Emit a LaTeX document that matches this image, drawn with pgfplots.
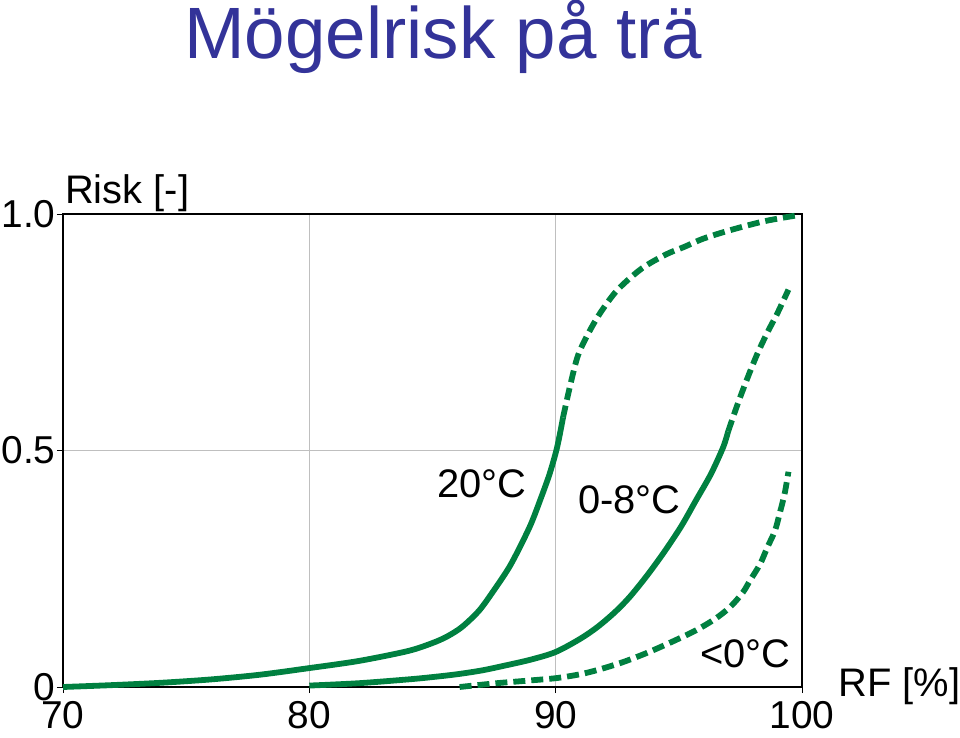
\documentclass[border=0pt]{standalone}
\usepackage{pgfplots}
\pgfplotsset{compat=1.18}
\usepackage{fontspec}
\setmainfont{Liberation Sans}
\definecolor{lgreen}{RGB}{0,128,64}
\definecolor{ttl}{RGB}{51,51,153}
\begin{document}
\begin{tikzpicture}
\begin{axis}[
  scale only axis, width=739bp, height=473bp,
  xmin=70, xmax=100, ymin=0, ymax=1,
  xtick={70,80,90,100}, ytick={0,0.5,1}, yticklabels={0,0.5,1.0},
  xtick pos=left, ytick pos=left,
  grid=major, grid style={gray!50, line width=0.8bp},
  axis line style={line width=2.5bp},
  tick align=outside, major tick length=6bp, tick style={black, line width=0.8bp},
  /pgf/number format/assume math mode=true,
  ticklabel style={font=\fontsize{39}{45}\selectfont},
  xticklabel style={yshift=-7bp, inner sep=1bp},
  yticklabel style={xshift=2bp},
  clip=false,
  every axis plot/.append style={lgreen, line width=5.8bp, smooth, no marks},
]
\addplot[] coordinates {(70,0) (72,0.004) (74,0.009) (76,0.016) (78,0.026) (80,0.040) (82,0.055) (84,0.076) (85,0.093) (85.6,0.107) (86.2,0.127) (86.9,0.162) (87.5,0.205) (88.1,0.252) (88.55,0.296) (89,0.345) (89.37,0.395) (89.75,0.45) (90.06,0.507) (90.3,0.57)};
\addplot[dash pattern=on 12bp off 6bp] coordinates {(90.3,0.57) (90.6,0.64) (90.9,0.70) (91.3,0.745) (91.8,0.79) (92.5,0.839) (93.5,0.885) (94.5,0.915) (95.2,0.930) (96.0,0.948) (97.1,0.966) (98.5,0.985) (99.9,0.998)};
\addplot[] coordinates {(80,0.003) (82,0.008) (84,0.016) (85,0.021) (86,0.027) (87,0.035) (88,0.046) (89,0.058) (90,0.074) (91,0.102) (91.7,0.127) (92.4,0.158) (93,0.19) (93.7,0.235) (94.4,0.285) (95.1,0.34) (95.7,0.395) (96.3,0.45) (96.8,0.507) (97.0,0.54)};
\addplot[dash pattern=on 12bp off 6bp] coordinates {(97.0,0.54) (97.4,0.6) (97.8,0.655) (98.2,0.706) (98.6,0.75) (99.0,0.79) (99.45,0.84)};
\addplot[dash pattern=on 12bp off 6bp] coordinates {(86.1,0.0) (87.6,0.008) (89,0.014) (90.06,0.019) (91,0.027) (91.7,0.036) (92.7,0.052) (93.7,0.072) (94.7,0.095) (95.7,0.12) (96.5,0.145) (97.1,0.17) (97.6,0.2) (97.9,0.226) (98.3,0.26) (98.6,0.296) (98.9,0.33) (99.1,0.368) (99.3,0.41) (99.45,0.455)};
\node[anchor=base, text=ttl, font=\fontsize{73}{80}\selectfont] at (axis cs:85.43,1.328) {Mögelrisk på trä};
\node[anchor=base west, inner sep=0pt, font=\fontsize{40}{46}\selectfont] at (axis cs:70.08,1.023) {Risk [-]};
\node[anchor=base west, inner sep=0pt, font=\fontsize{40}{46}\selectfont] at (axis cs:101.47,-0.021) {RF [\%]};
\node[anchor=base west, inner sep=0pt, font=\fontsize{40}{46}\selectfont] at (axis cs:85.18,0.40) {20°C};
\node[anchor=base west, inner sep=0pt, font=\fontsize{40}{46}\selectfont] at (axis cs:90.91,0.366) {0-8°C};
\node[anchor=base west, inner sep=0pt, font=\fontsize{40}{46}\selectfont] at (axis cs:95.86,0.042) {<0°C};
\end{axis}
\pgfresetboundingbox
\path[use as bounding box] (-63bp,-51bp) rectangle (897bp,687bp);
\end{tikzpicture}
\end{document}
